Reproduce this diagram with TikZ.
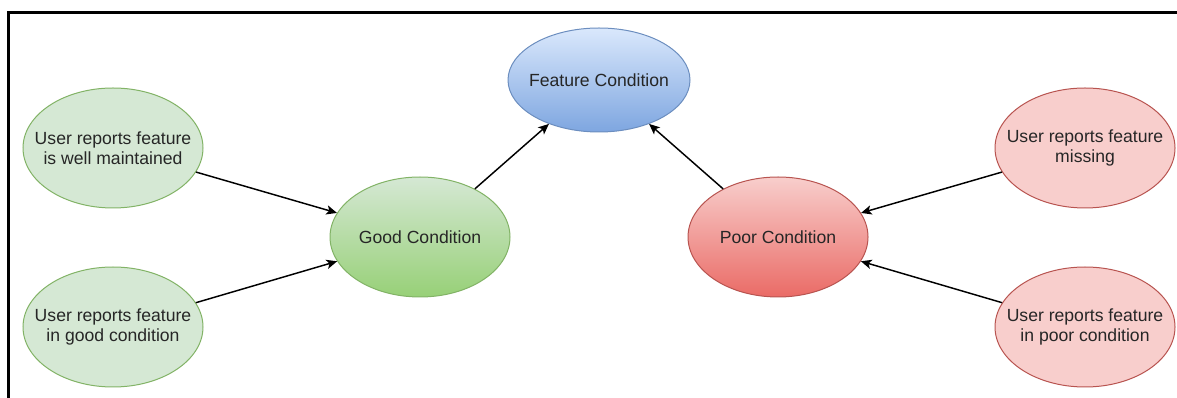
\documentclass[tikz,border=0pt]{standalone}
\usepackage{fontspec}
\setmainfont{Liberation Sans}
\usetikzlibrary{shapes.geometric,arrows.meta}

\definecolor{greenfill}{HTML}{D5E8D4}
\definecolor{greenline}{HTML}{82B366}
\definecolor{greendeep}{HTML}{97D077}
\definecolor{redfill}{HTML}{F8CECC}
\definecolor{redline}{HTML}{B85450}
\definecolor{reddeep}{HTML}{EA6B66}
\definecolor{bluefill}{HTML}{DAE8FC}
\definecolor{blueline}{HTML}{6C8EBF}
\definecolor{bluedeep}{HTML}{7EA6E0}
\definecolor{labeltext}{HTML}{262626}

\begin{document}
\begin{tikzpicture}[x=0.75pt,y=-0.75pt,
  caption/.style={inner sep=0pt,align=center,text=labeltext,
    font=\fontsize{13.2}{14.8}\selectfont},
  % fixed-size ellipse; the text sits in a centred label so it cannot grow the shape
  bubble/.style={ellipse,inner sep=0pt,line width=0.75pt,
    minimum width=135pt,minimum height=90pt,
    label={[caption]center:{#1}}},
  leafgood/.style={bubble={#1},draw=greenline,fill=greenfill},
  leafpoor/.style={bubble={#1},draw=redline,fill=redfill},
  goodbox/.style={bubble={#1},draw=greenline,top color=greenfill,bottom color=greendeep},
  poorbox/.style={bubble={#1},draw=redline,top color=redfill,bottom color=reddeep},
  rootbox/.style={bubble={#1},draw=blueline,top color=bluefill,bottom color=bluedeep,
    minimum width=136.5pt,minimum height=78pt},
  link/.style={draw=black,line width=1.1pt,
    -{Stealth[length=8pt,width=7pt,inset=2pt]}}
]
\useasboundingbox (0,0) rectangle (1177,398);

% frame along the top and left edges
\draw[line width=2.25pt] (1177,12.5) -- (8.5,12.5) -- (8.5,398);

% nodes
\node[rootbox={Feature Condition}] (feat) at (599,80) {};
\node[goodbox={Good Condition}]    (good) at (420,237) {};
\node[poorbox={Poor Condition}]    (poor) at (778,237) {};
\node[leafgood={User reports feature\\is well maintained}] (gtop) at (113,148) {};
\node[leafgood={User reports feature\\in good condition}]  (gbot) at (113,327) {};
\node[leafpoor={User reports feature\\missing}]            (ptop) at (1085,148) {};
\node[leafpoor={User reports feature\\in poor condition}]  (pbot) at (1085,327) {};

% connectors
\draw[link] (gtop) -- (good);
\draw[link] (gbot) -- (good);
\draw[link] (good) -- (feat);
\draw[link] (poor) -- (feat);
\draw[link] (ptop) -- (poor);
\draw[link] (pbot) -- (poor);
\end{tikzpicture}
\end{document}
